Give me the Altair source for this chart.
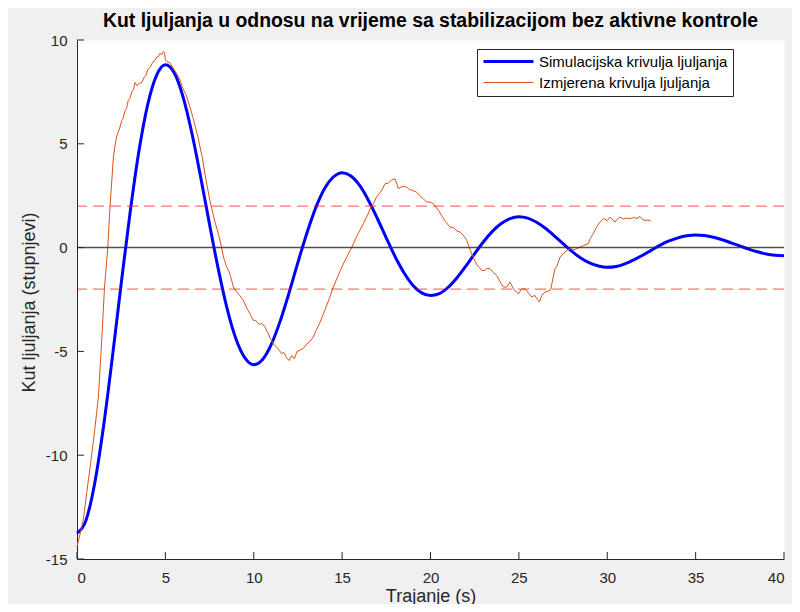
import altair as alt
import pandas as pd

# ---------------- data ----------------
sim_t = [0.0, 0.5, 1.0, 1.5, 2.0, 2.5, 3.0, 3.5, 4.0, 4.5, 5.0, 5.5, 6.0, 6.5, 7.0, 7.5,
         8.0, 8.5, 9.0, 9.5, 10.0, 10.5, 11.0, 11.5, 12.0, 12.5, 13.0, 13.5, 14.0, 14.5,
         15.0, 15.5, 16.0, 16.5, 17.0, 17.5, 18.0, 18.5, 19.0, 19.5, 20.0, 20.5, 21.0,
         21.5, 22.0, 22.5, 23.0, 23.5, 24.0, 24.5, 25.0, 25.5, 26.0, 26.5, 27.0, 27.5,
         28.0, 28.5, 29.0, 29.5, 30.0, 30.5, 31.0, 31.5, 32.0, 32.5, 33.0, 33.5, 34.0,
         34.5, 35.0, 35.5, 36.0, 36.5, 37.0, 37.5, 38.0, 38.5, 39.0, 39.5, 40.0]
sim_y = [-13.76, -13.16, -11.36, -8.62, -5.29, -1.74, 1.66, 4.63, 6.89, 8.30, 8.81,
         8.42, 7.26, 5.51, 3.38, 1.11, -1.06, -2.96, -4.41, -5.31, -5.64,
         -5.39, -4.65, -3.53, -2.17, -0.71, 0.68, 1.90, 2.83, 3.40, 3.61,
         3.45, 2.98, 2.26, 1.39, 0.46, -0.44, -1.21, -1.81, -2.18, -2.31,
         -2.22, -1.91, -1.45, -0.89, -0.29, 0.28, 0.78, 1.16, 1.40, 1.49,
         1.42, 1.22, 0.93, 0.57, 0.19, -0.18, -0.50, -0.74, -0.89, -0.95,
         -0.91, -0.78, -0.59, -0.37, -0.12, 0.12, 0.32, 0.47, 0.57, 0.61,
         0.58, 0.50, 0.38, 0.23, 0.08, -0.07, -0.20, -0.31, -0.37, -0.39]

meas_t = [0.0, 0.2, 0.36, 0.55, 0.77, 1.0, 1.21, 1.43, 1.55, 1.74, 1.87, 2.06, 2.15, 2.24,
          2.3, 2.4, 2.53, 2.6, 2.7, 2.8, 2.9, 3.0, 3.1, 3.2, 3.28, 3.4, 3.5, 3.66, 3.8,
          3.9, 4.03, 4.15, 4.3, 4.4, 4.51, 4.6, 4.7, 4.8, 4.88, 4.95, 5.0, 5.1, 5.26,
          5.4, 5.55, 5.7, 5.83, 6.0, 6.2, 6.39, 6.55, 6.7, 6.85, 6.96, 7.1, 7.25, 7.4,
          7.52, 7.7, 7.85, 8.0, 8.18, 8.3, 8.47, 8.6, 8.66, 8.85, 9.0, 9.2, 9.41, 9.6,
          9.8, 9.98, 10.1, 10.3, 10.45, 10.64, 10.8, 10.95, 11.1, 11.3, 11.45, 11.58,
          11.7, 11.85, 12.01, 12.15, 12.3, 12.45, 12.62, 12.8, 13.0, 13.2, 13.37, 13.55,
          13.75, 13.94, 14.1, 14.3, 14.5, 14.7, 14.9, 15.07, 15.3, 15.54, 15.8, 16.0,
          16.2, 16.45, 16.67, 16.77, 16.95, 17.1, 17.24, 17.43, 17.6, 17.8, 17.99, 18.1,
          18.18, 18.4, 18.65, 18.8, 19.0, 19.22, 19.4, 19.6, 19.78, 19.95, 20.16, 20.4,
          20.63, 20.85, 21.1, 21.3, 21.5, 21.67, 21.85, 22.05, 22.2, 22.33, 22.42, 22.6,
          22.9, 23.08, 23.2, 23.37, 23.55, 23.75, 23.9, 24.12, 24.31, 24.5, 24.7, 24.97,
          25.15, 25.35, 25.55, 25.73, 25.9, 26.05, 26.16, 26.3, 26.48, 26.65, 26.8, 26.9,
          27.04, 27.15, 27.33, 27.5, 27.7, 27.9, 28.17, 28.4, 28.65, 28.93, 29.05, 29.21,
          29.4, 29.59, 29.8, 30.0, 30.16, 30.44, 30.6, 30.72, 30.9, 31.1, 31.29, 31.5,
          31.7, 31.85, 32.0, 32.14, 32.3, 32.46]
meas_y = [-14.4, -13.7, -13.1, -11.8, -10.4, -8.8, -7.2, -4.0, -2.0, 0.0, 2.0, 4.36, 4.9,
          5.33, 5.5, 5.7, 6.13, 6.2, 6.55, 6.7, 7.09, 7.2, 7.5, 7.6, 7.95, 7.8, 7.9, 7.95,
          8.2, 8.3, 8.62, 8.7, 8.95, 9.0, 9.18, 9.2, 9.35, 9.3, 9.45, 9.4, 9.05, 8.95, 8.9,
          8.7, 8.5, 8.3, 8.06, 7.65, 7.3, 6.77, 6.3, 5.8, 5.3, 4.84, 4.3, 3.5, 2.8, 2.27,
          1.6, 1.1, 0.67, 0.0, -0.5, -0.94, -1.15, -1.3, -1.9, -2.1, -2.3, -2.54, -2.9,
          -3.2, -3.51, -3.5, -3.7, -3.65, -3.83, -4.1, -4.4, -4.63, -4.8, -4.95, -5.11,
          -5.05, -5.3, -5.44, -5.2, -5.35, -5.0, -4.95, -4.85, -4.65, -4.5, -4.31, -3.95,
          -3.6, -3.19, -2.85, -2.4, -1.9, -1.5, -1.1, -0.78, -0.4, 0.0, 0.5, 0.83,
          1.15, 1.6, 2.03, 2.1, 2.45, 2.6, 2.76, 3.08, 3.1, 3.25, 3.32, 3.05,
          2.84, 2.95, 2.92, 2.8, 2.75, 2.67, 2.5, 2.35, 2.19, 2.2, 2.12, 1.85,
          1.55, 1.25, 0.99, 0.95, 0.8, 0.75, 0.6, 0.35, 0.0, -0.3, -0.46, -0.8,
          -1.1, -1.1, -1.0, -1.02, -1.2, -1.34, -1.6, -1.9, -1.9, -1.66, -2.0, -2.22,
          -2.0, -1.98, -2.2, -2.38, -2.3, -2.5, -2.62, -2.3, -2.14, -2.1, -2.03, -1.6,
          -1.02, -0.9, -0.46, -0.3, -0.14, -0.05, -0.1, 0.0, 0.1, 0.19, 0.45, 0.67,
          1.0, 1.23, 1.4, 1.3, 1.47, 1.23, 1.4, 1.47, 1.38, 1.42, 1.39, 1.45,
          1.4, 1.5, 1.35, 1.31, 1.33, 1.28]

series_names = ["Simulacijska krivulja ljuljanja", "Izmjerena krivulja ljuljanja"]
series_colors = ["#0000ff", "#d95319"]
series_widths = [3, 1]

x_ticks = [0, 5, 10, 15, 20, 25, 30, 35, 40]
y_ticks = [-15, -10, -5, 0, 5, 10]
band_levels = [2, -2]
zero_level = [0]

sim_df = pd.DataFrame({"t": sim_t, "y": sim_y, "serija": series_names[0]})
meas_df = pd.DataFrame({"t": meas_t, "y": meas_y, "serija": series_names[1]})
xt_df = pd.DataFrame({"v": x_ticks})
yt_df = pd.DataFrame({"v": y_ticks})
band_df = pd.DataFrame({"lvl": band_levels})
zero_df = pd.DataFrame({"lvl": zero_level})

FONT = "Liberation Sans"
AX = "#262626"

xscale = alt.Scale(domain=[0, 40], nice=False, zero=False)
yscale = alt.Scale(domain=[-15, 10], nice=False, zero=False)

LINE_SYMBOL = "M-4.1667,0H4.1667"


def make_legend():
    return alt.Legend(title=None, orient="none", legendX=400, legendY=9,
                      symbolType=LINE_SYMBOL, symbolSize=144, symbolOffset=19,
                      labelFont=FONT, labelFontSize=15, labelColor="#000000",
                      labelLimit=400, labelOffset=23,
                      fillColor="#ffffff", strokeColor=AX, padding=5,
                      rowPadding=5)


color_enc = alt.Color("serija:N",
                      scale=alt.Scale(domain=series_names, range=series_colors),
                      legend=make_legend())
width_enc = alt.StrokeWidth("serija:N",
                            scale=alt.Scale(domain=series_names, range=series_widths),
                            legend=make_legend())

x_enc = alt.X("t:Q", scale=xscale,
              axis=alt.Axis(values=x_ticks, ticks=False, grid=False, title="Trajanje (s)",
                            labelPadding=11, titleY=37, titleBaseline="middle",
                            labelExpr="'' + datum.value"))
y_enc = alt.Y("y:Q", scale=yscale,
              axis=alt.Axis(values=y_ticks, ticks=False, grid=False,
                            title="Kut ljuljanja (stupnjevi)", labelPadding=10,
                            titleX=-48, titleY=262, titleAngle=-90, titleBaseline="middle",
                            labelExpr="'' + datum.value"))

sim_line = alt.Chart(sim_df).mark_line(interpolate="monotone").encode(
    x=x_enc, y=y_enc, color=color_enc, strokeWidth=width_enc)
meas_line = alt.Chart(meas_df).mark_line().encode(
    x=alt.X("t:Q", scale=xscale), y=alt.Y("y:Q", scale=yscale),
    color=color_enc, strokeWidth=width_enc)

zero_rule = alt.Chart(zero_df).mark_rule(color=AX, strokeWidth=1.5, opacity=0.8).encode(
    y=alt.Y("lvl:Q", scale=yscale))
band_rules = alt.Chart(band_df).mark_rule(color="#ff0000", strokeWidth=1.2, opacity=0.55,
                                          strokeDash=[11, 6]).encode(
    y=alt.Y("lvl:Q", scale=yscale))

x_tick_marks = alt.Chart(xt_df).mark_tick(orient="vertical", size=7, thickness=1,
                                          color=AX, yOffset=-3.5, opacity=1).encode(
    x=alt.X("v:Q", scale=xscale), y=alt.datum(-15))
y_tick_marks = alt.Chart(yt_df).mark_tick(orient="horizontal", size=7, thickness=1,
                                          color=AX, xOffset=3.5, opacity=1).encode(
    y=alt.Y("v:Q", scale=yscale), x=alt.datum(0))

chart = alt.layer(
    sim_line, meas_line, zero_rule, band_rules, x_tick_marks, y_tick_marks
).properties(
    width=707, height=519,
    title=alt.TitleParams("Kut ljuljanja u odnosu na vrijeme sa stabilizacijom bez aktivne kontrole",
                          font=FONT, fontSize=19.4, fontWeight="bold", color="#000000",
                          anchor="middle", offset=2),
    background="#f0f0f0",
    padding={"left": 69, "top": 32, "right": 8, "bottom": 45},
    autosize=alt.AutoSizeParams(type="none"),
).configure_view(
    fill="#ffffff", stroke="transparent"
).configure_axis(
    labelFont=FONT, labelFontSize=15, labelColor=AX, domainColor=AX, domainWidth=1,
    titleFont=FONT, titleFontSize=18, titleFontWeight="normal", titleColor=AX,
)

chart.save("out.html", embed_options={"renderer": "svg", "actions": False})
